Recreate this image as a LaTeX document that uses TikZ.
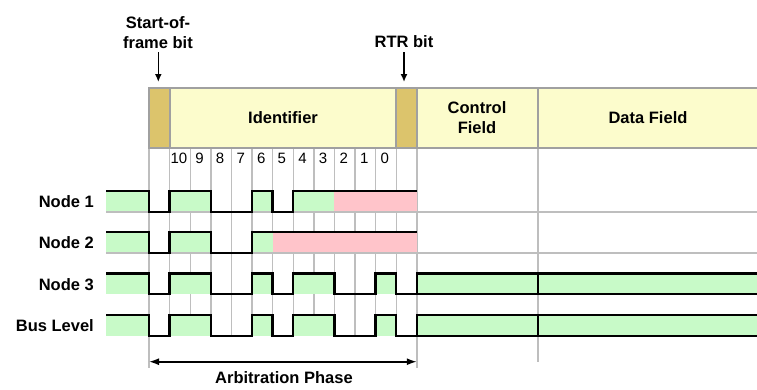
\documentclass[tikz,border=0pt]{standalone}
\usepackage{fontspec}
\setmainfont{Liberation Sans}
\usetikzlibrary{arrows.meta}
\definecolor{sigg}{HTML}{C8FAC8}
\definecolor{sigp}{HTML}{FFC4CA}
\definecolor{gold}{HTML}{DCC46C}
\definecolor{pale}{HTML}{FCFCCC}
\definecolor{hdrline}{HTML}{A0A0A0}
\definecolor{grid}{HTML}{BEBEBE}
\tikzset{
  hdr/.style={draw=hdrline, line width=2pt},
  gridln/.style={draw=grid, line width=1.4pt},
  sigln/.style={draw=black, line width=2.4pt, line join=miter},
  lbl/.style={font=\bfseries\fontsize{16.5}{20}\selectfont, inner sep=0pt, align=center},
  bitnum/.style={font=\fontsize{15}{17}\selectfont, inner sep=0pt},
  ptr/.style={draw=black, line width=1.6pt, -{Latex[length=8pt,width=7pt]}},
}
\def\W{20.6}
\begin{document}
\begin{tikzpicture}[x=1pt,y=-1pt]
\useasboundingbox (0,0) rectangle (757,389);
\clip (0,0) rectangle (757,389);
% ---------- grid lines ----------
\foreach \k in {1,...,12} \draw[gridln] ({149+\k*\W},148) -- ({149+\k*\W},336);
\draw[gridln] (149,148) -- (149,368);
\draw[gridln] ({149+13*\W},148) -- ({149+13*\W},368);
\draw[gridln] (538,148) -- (538,362);
% ---------- header ----------
\draw[hdr, fill=pale] ({149+\W},88) rectangle ({149+12*\W},148);
\draw[hdr, fill=pale] ({149+13*\W},88) rectangle (538,148);
\draw[hdr, fill=pale] (538,88) rectangle (760,148);
\draw[hdr, fill=gold] (149,88) rectangle ({149+\W},148);
\draw[hdr, fill=gold] ({149+12*\W},88) rectangle ({149+13*\W},148);
\node[lbl] (ident) at (283,118) {Identifier};
\node[lbl] (ctrl) at (477,118) {Control\\Field};
\node[lbl] (data) at (648,118) {Data Field};
% ---------- bit numbers ----------
\foreach \k/\b in {1/10,2/9,3/8,4/7,5/6,6/5,7/4,8/3,9/2,10/1,11/0}
  \node[bitnum] (b\b) at ({149+(\k+0.45)*\W},158.5) {\b};
% ---------- fills ----------
% Node 1
\foreach \a/\c in {106/149, {149+\W}/{149+3*\W}, {149+5*\W}/{149+6*\W}, {149+7*\W}/{149+9*\W}}
  \fill[sigg] (\a,191) rectangle (\c,212);
\fill[sigp] ({149+9*\W},191) rectangle ({149+13*\W},212);
% Node 2
\foreach \a/\c in {106/149, {149+\W}/{149+3*\W}, {149+5*\W}/{149+6*\W}}
  \fill[sigg] (\a,232) rectangle (\c,253);
\fill[sigp] ({149+6*\W},232) rectangle ({149+13*\W},253);
% Node 3 and Bus
\foreach \h/\l in {273.5/294, 315/336}{
  \foreach \a/\c in {106/149, {149+\W}/{149+3*\W}, {149+5*\W}/{149+6*\W}, {149+7*\W}/{149+9*\W}, {149+11*\W}/{149+12*\W}, {149+13*\W}/760}
    \fill[sigg] (\a,\h) rectangle (\c,\l);
}
% ---------- horizontal grid lines ----------
\foreach \l in {212,253} \draw[gridln] (106,\l) -- (757,\l);
% ---------- signal lines ----------
\draw[sigln] (106,191) -- (149,191) -- (149,212) -- ({149+\W},212) -- ({149+\W},191)
  -- ({149+3*\W},191) -- ({149+3*\W},212) -- ({149+5*\W},212) -- ({149+5*\W},191)
  -- ({149+6*\W},191) -- ({149+6*\W},212) -- ({149+7*\W},212) -- ({149+7*\W},191)
  -- ({149+13*\W},191);
\draw[sigln] (106,232) -- (149,232) -- (149,253) -- ({149+\W},253) -- ({149+\W},232)
  -- ({149+3*\W},232) -- ({149+3*\W},253) -- ({149+5*\W},253) -- ({149+5*\W},232)
  -- ({149+13*\W},232);
\foreach \h/\l in {273.5/294, 315/336}{
  \draw[sigln] (106,\h) -- (149,\h) -- (149,\l) -- ({149+\W},\l) -- ({149+\W},\h)
    -- ({149+3*\W},\h) -- ({149+3*\W},\l) -- ({149+5*\W},\l) -- ({149+5*\W},\h)
    -- ({149+6*\W},\h) -- ({149+6*\W},\l) -- ({149+7*\W},\l) -- ({149+7*\W},\h)
    -- ({149+9*\W},\h) -- ({149+9*\W},\l) -- ({149+11*\W},\l) -- ({149+11*\W},\h)
    -- ({149+12*\W},\h) -- ({149+12*\W},\l) -- ({149+13*\W},\l) -- ({149+13*\W},\h)
    -- (760,\h);
  \draw[sigln] ({149+13*\W},\l) -- (760,\l);
  \draw[sigln] (538,\h) -- (538,\l);
}
% ---------- row labels ----------
\node[lbl, anchor=east] (n1) at (94,202) {Node 1};
\node[lbl, anchor=east] (n2) at (94,243) {Node 2};
\node[lbl, anchor=east] (n3) at (94,284.5) {Node 3};
\node[lbl, anchor=east] (bus) at (94,326) {Bus Level};
% ---------- top labels and pointers ----------
\node[lbl] (sof) at (158,33) {Start-of-\\frame bit};
\node[lbl] (rtr) at (404,42) {RTR bit};
\coordinate (sofend) at (158.3,82);
\coordinate (rtrend) at (404,82);
\draw[ptr] (158.3,52) -- (sofend);
\draw[ptr] (404,52) -- (rtrend);
% ---------- arbitration phase ----------
\coordinate (arbL) at (149,361.7);
\coordinate (arbR) at ({149+13*\W},361.7);
\draw[draw=black, line width=1.6pt, {Latex[length=10pt,width=7pt]}-{Latex[length=10pt,width=7pt]}] (arbL) -- (arbR);
\node[lbl] (arb) at (284,378) {Arbitration Phase};
\end{tikzpicture}
\end{document}
